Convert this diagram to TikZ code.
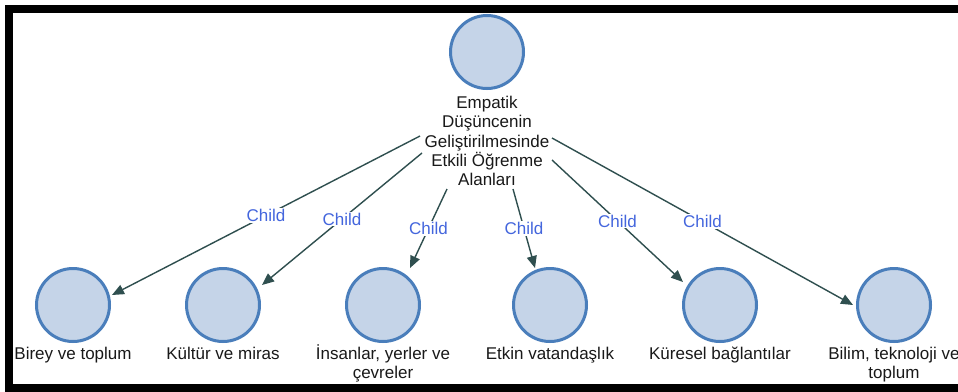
\documentclass[tikz,border=0pt]{standalone}
\usepackage{fontspec}
\setmainfont{Liberation Sans}
\usetikzlibrary{arrows.meta,calc}
\definecolor{circfill}{RGB}{197,212,232}
\definecolor{circline}{RGB}{74,126,187}
\definecolor{edgecol}{RGB}{47,79,79}
\definecolor{lblblue}{RGB}{68,102,221}
\definecolor{txt}{RGB}{25,25,25}
\begin{document}
\begin{tikzpicture}[x=1pt,y=-1pt,
 circ/.style={circle, draw=circline, fill=circfill, line width=3pt, minimum size=73pt, inner sep=0pt},
 lbl/.style={anchor=north, inner sep=0pt, align=center, text=txt, font=\fontsize{17}{19.4}\selectfont},
 edge/.style={draw=edgecol, line width=1.4pt, -{Triangle[length=12pt,width=10pt]}},
 clbl/.style={midway, fill=white, inner sep=1pt, text=lblblue, font=\fontsize{17}{19.4}\selectfont}]
\useasboundingbox (0,0) rectangle (958,391);
\fill[white] (0,0) rectangle (958,391);
\draw[line width=8pt] (9,9) rectangle (975,388);

\node[circ] (r) at (487,52) {};
\node[lbl] (rl) at (487,92) {\rule{0pt}{16pt}Empatik\\Düşüncenin\\Geliştirilmesinde\\Etkili Öğrenme\\Alanları};

\node[circ] (c1) at (73,305) {};
\node[circ] (c2) at (223,305) {};
\node[circ] (c3) at (383,305) {};
\node[circ] (c4) at (550,305) {};
\node[circ] (c5) at (720,305) {};
\node[circ] (c6) at (894,305) {};

\node[lbl] (t1) at (73,343) {\rule{0pt}{16pt}Birey ve toplum};
\node[lbl] (t2) at (223,343) {\rule{0pt}{16pt}Kültür ve miras};
\node[lbl] (t3) at (383,343) {\rule{0pt}{16pt}İnsanlar, yerler ve\\çevreler};
\node[lbl] (t4) at (550,343) {\rule{0pt}{16pt}Etkin vatandaşlık};
\node[lbl] (t5) at (720,343) {\rule{0pt}{16pt}Küresel bağlantılar};
\node[lbl] (t6) at (894,343) {\rule{0pt}{16pt}Bilim, teknoloji ve\\toplum};

\draw[edge] ($(r)+(-67,84)$) -- node[clbl]{Child} ($(c1)+(39,-10)$);
\draw[edge] ($(r)+(-65,101)$) -- node[clbl]{Child} ($(c2)+(39,-20)$);
\draw[edge] ($(r)+(-40,137)$) -- node[clbl]{Child} ($(c3)+(27,-37)$);
\draw[edge] ($(r)+(26,137)$) -- node[clbl]{Child} ($(c4)+(-15,-37)$);
\draw[edge] ($(r)+(65,108)$) -- node[clbl]{Child} ($(c5)+(-37,-23)$);
\draw[edge] ($(r)+(65,86)$) -- node[clbl]{Child} ($(c6)+(-41,0)$);
\end{tikzpicture}
\end{document}
